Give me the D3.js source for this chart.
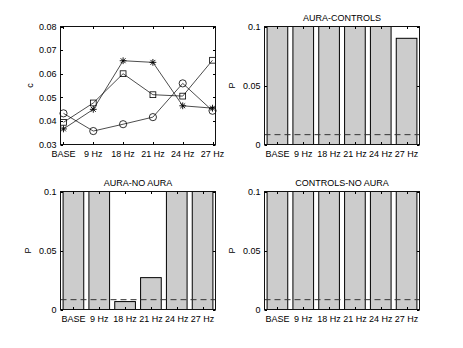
<!DOCTYPE html>
<html><head><meta charset="utf-8">
<script src="https://cdn.jsdelivr.net/npm/d3@7"></script>
<style>
body{margin:0;background:#fff;}
svg{display:block;font-family:"Liberation Sans",Arial,Helvetica,sans-serif;}
</style></head>
<body>
<script>
// ---- data ----
const categories = ["BASE","9 Hz","18 Hz","21 Hz","24 Hz","27 Hz"];
const circleSeries = [0.0432,0.0357,0.0386,0.0416,0.0559,0.0443];
const squareSeries = [0.0394,0.0476,0.0600,0.0511,0.0505,0.0657];
const starSeries   = [0.0366,0.0449,0.0655,0.0648,0.0464,0.0454];
const cTicks = [0.03,0.04,0.05,0.06,0.07,0.08];
const pTicks = [0,0.05,0.1];
// p-values (bars above 0.1 are clipped by the axes)
const pAuraControls   = [0.5,0.5,0.5,0.5,0.5,0.090];
const pAuraNoAura     = [0.5,0.5,0.0067,0.027,0.5,0.5];
const pControlsNoAura = [0.5,0.5,0.5,0.5,0.5,0.5];
const threshold = 0.05/6;
const titles = ["AURA-CONTROLS","AURA-NO AURA","CONTROLS-NO AURA"];

const W=463,H=348;
const svg=d3.select("body").append("svg").attr("width",W).attr("height",H);
const FS="9px";
const colL=60.5, colR=264.5, pw=155;
const rowT=26.5, rowB=191.5, ph=118;
const tickLen=2.5;

function frame(g, x, y, xTickVals, yTickVals, yFmt, xLabels){
  const [x0,x1]=x.range(), [y0,y1]=y.range();
  g.append("rect").attr("x",x0).attr("y",y1).attr("width",x1-x0).attr("height",y0-y1)
    .attr("fill","none").attr("stroke","#111").attr("stroke-width",1);
  xTickVals.forEach((v,i)=>{
    const px=Math.round(x(v))+0.5;
    g.append("line").attr("x1",px).attr("x2",px).attr("y1",y0).attr("y2",y0-tickLen).attr("stroke","#000");
    g.append("line").attr("x1",px).attr("x2",px).attr("y1",y1).attr("y2",y1+tickLen).attr("stroke","#000");
    g.append("text").attr("x",x(v)).attr("y",y0+12.5).attr("text-anchor","middle")
      .attr("font-size",FS).text(xLabels[i]);
  });
  yTickVals.forEach(v=>{
    const py=Math.round(y(v))+0.5;
    g.append("line").attr("x1",x0).attr("x2",x0+tickLen).attr("y1",py).attr("y2",py).attr("stroke","#000");
    g.append("line").attr("x1",x1).attr("x2",x1-tickLen).attr("y1",py).attr("y2",py).attr("stroke","#000");
    g.append("text").attr("x",x0-4).attr("y",y(v)+3.2).attr("text-anchor","end")
      .attr("font-size",FS).text(yFmt(v));
  });
}

// ---- top-left line plot ----
{
  const g=svg.append("g");
  const x=d3.scaleLinear().domain([0.9,6.1]).range([colL,colL+pw]);
  const y=d3.scaleLinear().domain([0.03,0.08]).range([rowT+ph,rowT]);
  const idx=d3.range(1,7);
  const line=d3.line().x((d,i)=>x(i+1)).y(d=>y(d));
  [circleSeries,squareSeries,starSeries].forEach(s=>{
    g.append("path").attr("d",line(s)).attr("fill","none").attr("stroke","#000").attr("stroke-width",0.7);
  });
  circleSeries.forEach((v,i)=>g.append("circle").attr("cx",x(i+1)).attr("cy",y(v)).attr("r",3.6)
    .attr("fill","none").attr("stroke","#000").attr("stroke-width",0.8));
  squareSeries.forEach((v,i)=>g.append("rect").attr("x",x(i+1)-2.9).attr("y",y(v)-2.9).attr("width",5.8).attr("height",5.8)
    .attr("fill","none").attr("stroke","#000").attr("stroke-width",0.8));
  starSeries.forEach((v,i)=>{
    const cx=x(i+1), cy=y(v), r=3.4, d=r*0.72;
    g.append("path").attr("d",`M${cx-r},${cy}L${cx+r},${cy}M${cx},${cy-r}L${cx},${cy+r}M${cx-d},${cy-d}L${cx+d},${cy+d}M${cx-d},${cy+d}L${cx+d},${cy-d}`)
      .attr("stroke","#000").attr("stroke-width",0.9).attr("fill","none");
  });
  frame(g,x,y,idx,cTicks,d3.format(".2f"),categories);
  g.append("text").attr("transform",`translate(${colL-28},${rowT+ph/2}) rotate(-90)`)
    .attr("text-anchor","middle").attr("font-size",FS).text("c");
}

// ---- bar plots ----
function barPlot(px,py,vals,title,id){
  const g=svg.append("g");
  const x=d3.scaleLinear().domain([0.5,6.5]).range([px,px+pw]);
  const y=d3.scaleLinear().domain([0,0.1]).range([py+ph,py]);
  svg.append("defs").append("clipPath").attr("id",id).append("rect")
    .attr("x",px).attr("y",py).attr("width",pw).attr("height",ph);
  const bg=g.append("g").attr("clip-path",`url(#${id})`);
  vals.forEach((v,i)=>{
    const xa=x(i+1-0.4), xb=x(i+1+0.4);
    bg.append("rect").attr("x",xa).attr("y",y(v)).attr("width",xb-xa).attr("height",y(0)-y(v))
      .attr("fill","#cccccc").attr("stroke","#000").attr("stroke-width",1);
  });
  bg.append("line").attr("x1",x(0.5)).attr("x2",x(6.5)).attr("y1",y(threshold)).attr("y2",y(threshold))
    .attr("stroke","#333").attr("stroke-width",1).attr("stroke-dasharray","6,4");
  frame(g,x,y,d3.range(1,7),pTicks,v=>v===0?"0":String(v),categories);
  g.append("text").attr("x",px+pw/2).attr("y",py-6).attr("text-anchor","middle").attr("font-size",FS).text(title);
  g.append("text").attr("transform",`translate(${px-30},${py+ph/2}) rotate(-90)`)
    .attr("text-anchor","middle").attr("font-size",FS).text("P");
}
barPlot(colR,rowT,pAuraControls,titles[0],"c1");
barPlot(colL,rowB,pAuraNoAura,titles[1],"c2");
barPlot(colR,rowB,pControlsNoAura,titles[2],"c3");
</script>
</body></html>
